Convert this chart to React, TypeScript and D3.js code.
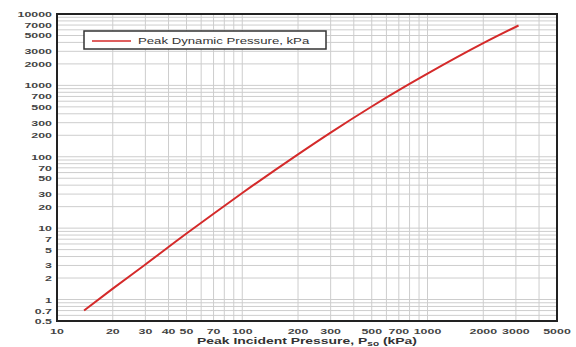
import React from 'react';
import * as d3 from 'd3';

// values
const incident = [14, 20, 30, 50, 70, 100, 200, 300, 500, 700, 1000, 2000, 3100];
const dynamic = [0.7, 1.42, 3.1, 8.4, 15.9, 31, 108, 218, 506, 857, 1460, 3900, 6900];

const xTickLabels = [10, 20, 30, 40, 50, 70, 100, 200, 300, 500, 700, 1000, 2000, 3000, 5000];
const yTickLabels = [0.5, 0.7, 1, 2, 3, 5, 7, 10, 20, 30, 50, 70, 100, 200, 300, 500, 700, 1000, 2000, 3000, 5000, 7000, 10000];

const legendLabel = 'Peak Dynamic Pressure, kPa';

function minorSteps(lo: number, hi: number) {
  const out: number[] = [];
  for (let dec = Math.pow(10, Math.floor(Math.log10(lo))); dec <= hi; dec *= 10) {
    for (let k = 1; k < 10; k++) {
      const v = +(k * dec).toPrecision(3);
      if (v >= lo && v <= hi) out.push(v);
    }
  }
  return out;
}

const SX = 1.55; // the original text is stretched sideways

function Stretched(props: { x: number; y: number; anchor: string; size: number; weight?: string; fill?: string; children: React.ReactNode }) {
  return (
    <text
      transform={'translate(' + props.x + ',' + props.y + ') scale(' + SX + ',1)'}
      textAnchor={props.anchor}
      fontSize={props.size}
      fontWeight={props.weight || 'bold'}
      fill={props.fill || '#444'}
      fontFamily="'Liberation Sans', Arial, sans-serif"
    >
      {props.children}
    </text>
  );
}

export default function App() {
  const width = 576;
  const height = 347;
  const margin = { top: 14, right: 19, bottom: 26, left: 57 };
  const w = width - margin.left - margin.right;
  const h = height - margin.top - margin.bottom;

  const x = d3.scaleLog().domain([10, 5000]).range([0, w]);
  const y = d3.scaleLog().domain([0.5, 10000]).range([h, 0]);

  const line = d3.line<number>()
    .x((d, i) => x(incident[i]))
    .y(d => y(d))
    .curve(d3.curveMonotoneX);

  const vGrid = minorSteps(10, 5000);
  const hGrid = minorSteps(0.5, 10000);

  return (
    <svg width={width} height={height} style={{ position: 'absolute', left: 0, top: 0, background: '#fff' }}>
      <g transform={'translate(' + margin.left + ',' + margin.top + ')'}>
        {hGrid.map((v, i) => (
          <line key={'h' + i} x1={0} x2={w} y1={y(v)} y2={y(v)} stroke="#cdcdcd" strokeWidth={1} />
        ))}
        {vGrid.map((v, i) => (
          <line key={'v' + i} x1={x(v)} x2={x(v)} y1={0} y2={h} stroke="#cdcdcd" strokeWidth={1} />
        ))}

        <path d={line(dynamic) || ''} fill="none" stroke="#d42a2a" strokeWidth={2} />

        <rect x={0} y={0} width={w} height={h} fill="none" stroke="#222" strokeWidth={2} />

        {yTickLabels.map((v, i) => (
          <Stretched key={'yl' + i} x={-5} y={y(v) + 3} anchor="end" size={8}>{v}</Stretched>
        ))}
        {xTickLabels.map((v, i) => (
          <Stretched key={'xl' + i} x={x(v)} y={h + 13} anchor="middle" size={8}>{v}</Stretched>
        ))}

        <g transform="translate(27,17)">
          <rect x={0} y={0} width={242} height={18} fill="#fff" stroke="#333" strokeWidth={1.5} />
          <line x1={8} x2={47} y1={10} y2={10} stroke="#d42a2a" strokeWidth={1.5} />
          <Stretched x={54} y={13} anchor="start" size={8.5} weight="normal" fill="#333">{legendLabel}</Stretched>
        </g>
      </g>

      <text
        transform={'translate(307,344) scale(' + SX + ',1)'}
        textAnchor="middle"
        fontSize={9}
        fontWeight="bold"
        fill="#333"
        fontFamily="'Liberation Sans', Arial, sans-serif"
      >
        Peak Incident Pressure, P<tspan fontSize={6.5} dy={2}>so</tspan><tspan dy={-2}> (kPa)</tspan>
      </text>
    </svg>
  );
}
